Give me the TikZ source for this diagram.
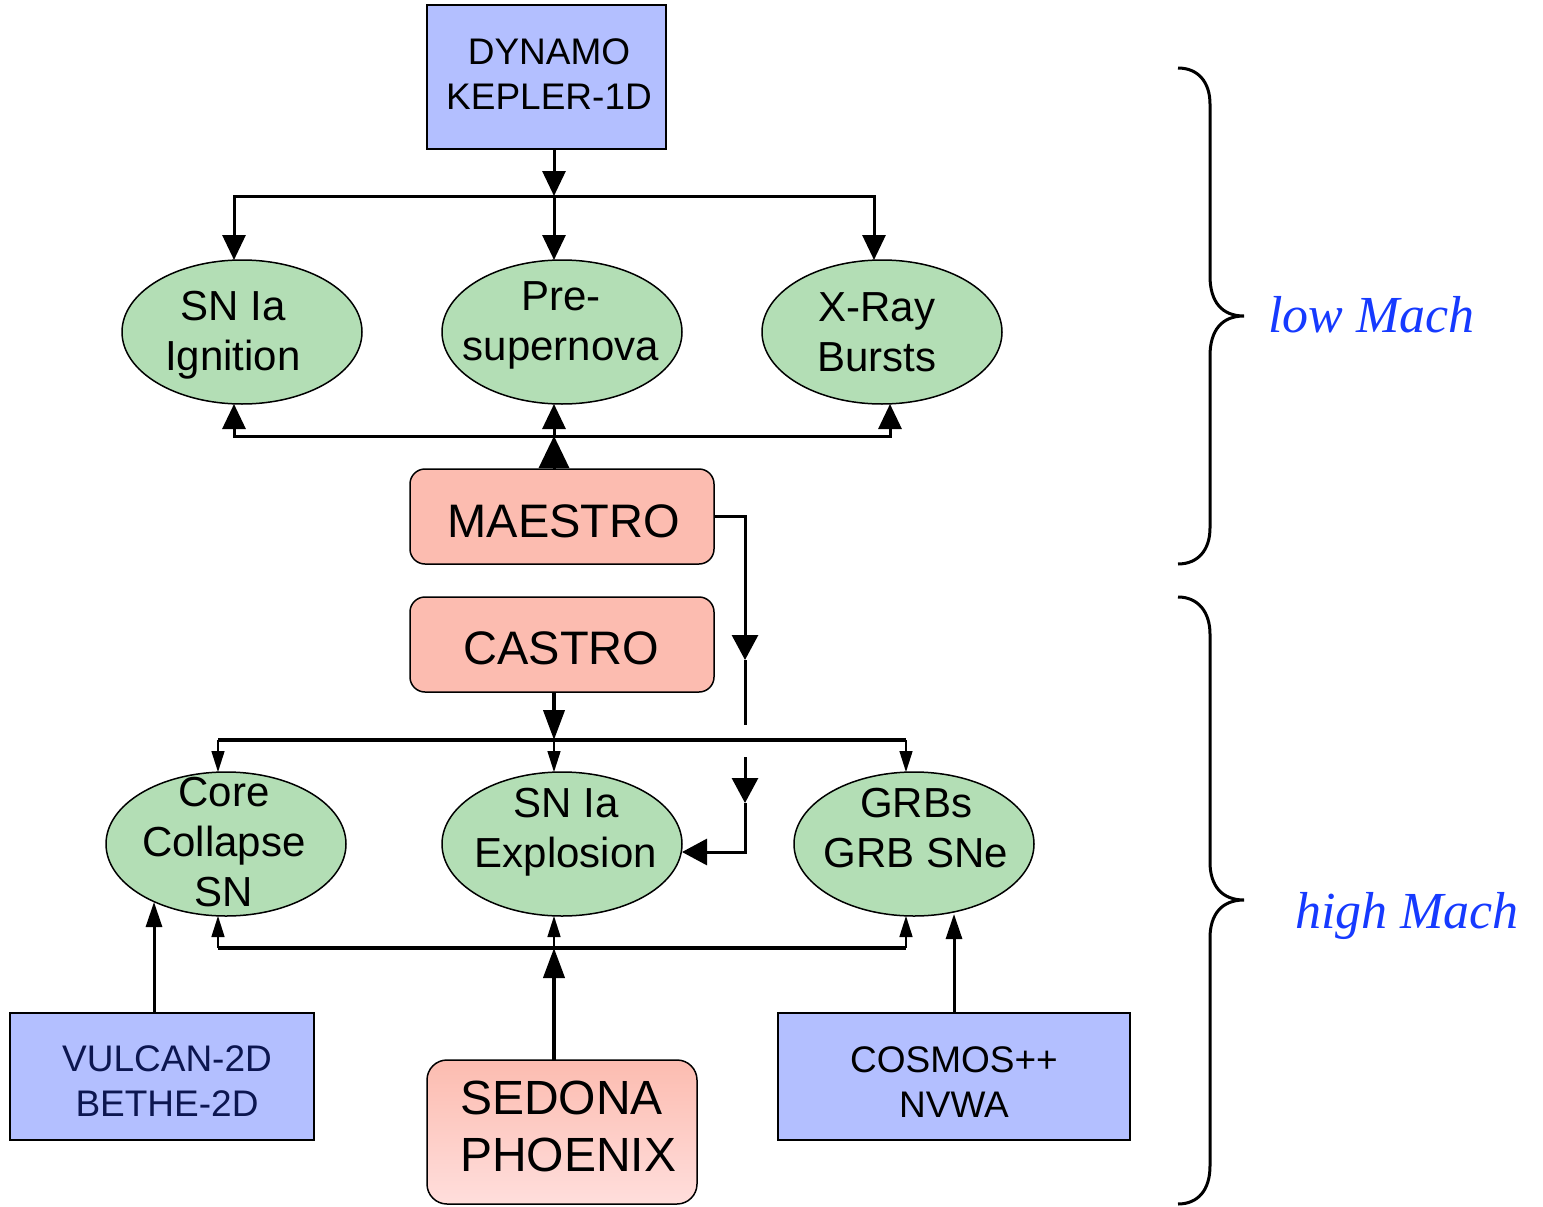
\documentclass[tikz,border=0pt]{standalone}
\usepackage{fontspec}
\setmainfont{Liberation Sans}
\newfontfamily\machfont{Liberation Serif}
\usetikzlibrary{arrows.meta,shapes.geometric}
\definecolor{boxblue}{RGB}{179,191,255}
\definecolor{ellgreen}{RGB}{179,222,181}
\definecolor{salmon}{RGB}{252,188,176}
\definecolor{pinklight}{RGB}{255,222,220}
\definecolor{machblue}{RGB}{22,58,255}
\definecolor{navytext}{RGB}{12,22,80}
\tikzset{
  tipS/.tip={Triangle[width=23pt,length=25pt]},
  tipB/.tip={Triangle[width=30pt,length=32pt]},
  tipM/.tip={Triangle[width=13pt,length=21pt]},
  tipC/.tip={Triangle[width=21pt,length=30pt]},
  tipV/.tip={Triangle[width=16pt,length=25pt]},
  tipD/.tip={Triangle[width=26pt,length=25pt]},
}
\begin{document}
\begin{tikzpicture}[x=1pt,y=-1pt,
  every node/.style={inner sep=0pt,outer sep=0pt},
  sqbox/.style={draw=black,line width=1.5pt,fill=boxblue,rectangle},
  rbox/.style={draw=black,line width=1.5pt,fill=salmon,rectangle,rounded corners=15pt},
  ell/.style={draw=black,line width=1.5pt,fill=ellgreen,ellipse,minimum width=240pt,minimum height=144pt},
  txtA/.style={font=\fontsize{37}{45}\selectfont,align=center,anchor=north},
  txtB/.style={font=\fontsize{42}{50}\selectfont,align=center,anchor=north},
  txtC/.style={font=\fontsize{47}{56}\selectfont,anchor=north},
  conn/.style={line width=3pt,draw=black},
  heavyconn/.style={line width=4pt,draw=black},
  thinconn/.style={line width=1.5pt,draw=black},
  thickline/.style={line width=3.5pt,draw=black},
  brace/.style={line width=3pt,draw=black},
  mach/.style={font=\machfont\itshape\fontsize{52}{60}\selectfont,text=machblue,anchor=base west},
]
\useasboundingbox (0,0) rectangle (1543,1207);

% ---------- top box
\node[sqbox,minimum width=239pt,minimum height=144pt] (dyn) at (546.5,77) {};
\node[txtA] (dynt) at (549,39) {DYNAMO\\KEPLER-1D};

% ---------- top ellipses
\node[ell] (ign) at (242,332) {};
\node[ell] (pre) at (562,332) {};
\node[ell] (xray) at (882,332) {};
\node[txtB] (ignt) at (233,291) {SN Ia\\Ignition};
\node[txtB] (pret) at (561,282) {Pre-\\supernova};
\node[txtB] (xrayt) at (877,293) {X-Ray\\Bursts};

% ---------- MAESTRO / CASTRO
\node[rbox,minimum width=304pt,minimum height=95pt] (mae) at (562,516.5) {};
\node[txtC] (maet) at (564,505) {MAESTRO};
\node[rbox,minimum width=304pt,minimum height=95pt] (cas) at (562,644.5) {};
\node[txtC] (cast) at (561.5,632) {CASTRO};

% ---------- bottom ellipses
\node[ell] (cc) at (226,844) {};
\node[ell] (expl) at (562,844) {};
\node[ell] (grb) at (914,844) {};
\node[txtB] (cct) at (224,777) {Core\\Collapse\\SN};
\node[txtB] (explt) at (566,788) {SN Ia\\Explosion};
\node[txtB] (grbt) at (916,788) {GRBs\\GRB SNe};

% ---------- bottom boxes
\node[sqbox,minimum width=304pt,minimum height=127pt] (vul) at (162,1076.5) {};
\node[txtA,text=navytext] (vult) at (167,1046) {VULCAN-2D\\BETHE-2D};
\node[sqbox,minimum width=352pt,minimum height=127pt] (cos) at (954,1076.5) {};
\node[txtA] (cost) at (954,1047) {COSMOS++\\NVWA};
\node[draw=black,line width=1.5pt,rounded corners=20pt,top color=salmon,bottom color=pinklight,
      minimum width=270pt,minimum height=144pt] (sed) at (562,1132) {};
\node[font=\fontsize{48}{57}\selectfont,align=left,anchor=north west] (sedt) at (460,1081) {SEDONA\\PHOENIX};

% ---------- top connectors
\coordinate (jt) at (554,196);
\coordinate (jtl) at (234,196);
\coordinate (jtr) at (874,196);
\draw[conn,-tipS] (dyn.south -| jt) -- (jt);
\draw[conn,tipS-tipS] (jtl |- ign.north) -- (jtl) -- (jtr) -- (jtr |- xray.north);
\draw[conn,-tipS] (jt) -- (jt |- pre.north);

\coordinate (jb) at (554,436);
\coordinate (jbl) at (234,436);
\coordinate (jbr) at (890,436);
\draw[conn,tipS-tipS] (jbl |- ign.south) -- (jbl) -- (jbr) -- (jbr |- xray.south);
\draw[conn,-tipS] (jb) -- (jb |- pre.south);
\draw[conn,-tipB] (mae.north -| jb) -- (jb);

% ---------- MAESTRO to SN Ia Explosion (with crossing gap)
\coordinate (m1) at (745,516);
\coordinate (m2) at (745,660);
\coordinate (m3) at (745,725);
\coordinate (m4) at (745,757);
\coordinate (m5) at (745,803);
\coordinate (m6) at (745,852);
\coordinate (m7) at (682,852);
\draw[conn,-tipD] (mae.east |- m1) -- (m1) -- (m2);
\draw[conn] (m2) -- (m3);
\draw[conn,-tipD] (m4) -- (m5);
\draw[conn,-tipD] (m5) -- (m6) -- (m7);

% ---------- CASTRO fan-out
\coordinate (jc) at (554,740);
\coordinate (jcl) at (218,740);
\coordinate (jcr) at (906,740);
\draw[heavyconn,-tipC] (cas.south -| jc) -- (jc);
\draw[thickline] (jcl) -- (jcr);
\draw[thinconn,-tipM] (jcl) -- (jcl |- cc.north);
\draw[thinconn,-tipM] (jc) -- (jc |- expl.north);
\draw[thinconn,-tipM] (jcr) -- (jcr |- grb.north);

% ---------- SEDONA fan-in
\coordinate (je) at (554,948);
\coordinate (jel) at (218,948);
\coordinate (jer) at (906,948);
\draw[thickline] (jel) -- (jer);
\draw[thinconn,-tipM] (jel) -- (jel |- cc.south);
\draw[thinconn,-tipM] (je) -- (je |- expl.south);
\draw[thinconn,-tipM] (jer) -- (jer |- grb.south);
\draw[heavyconn,-tipC] (sed.north -| je) -- (je);

% ---------- side codes
\coordinate (vtip) at (154,902);
\draw[conn,-tipV] (vul.north -| vtip) -- (vtip);
\coordinate (ctip) at (954,914);
\draw[conn,-tipV] (cos.north -| ctip) -- (ctip);

% ---------- braces
\draw[brace] (1178,68) .. controls (1198,68) and (1210,82) .. (1210,104) -- (1210,276)
  .. controls (1210,302) and (1222,316) .. (1244,316)
  .. controls (1222,316) and (1210,330) .. (1210,356) -- (1210,528)
  .. controls (1210,550) and (1198,564) .. (1178,564);
\draw[brace] (1178,597) .. controls (1198,597) and (1210,612) .. (1210,634) -- (1210,862)
  .. controls (1210,886) and (1222,900) .. (1244,900)
  .. controls (1222,900) and (1210,914) .. (1210,938) -- (1210,1166)
  .. controls (1210,1190) and (1198,1204) .. (1178,1204);
\node[mach] (low) at (1268,332) {low Mach};
\node[mach] (high) at (1295,928) {high Mach};
\end{tikzpicture}
\end{document}
